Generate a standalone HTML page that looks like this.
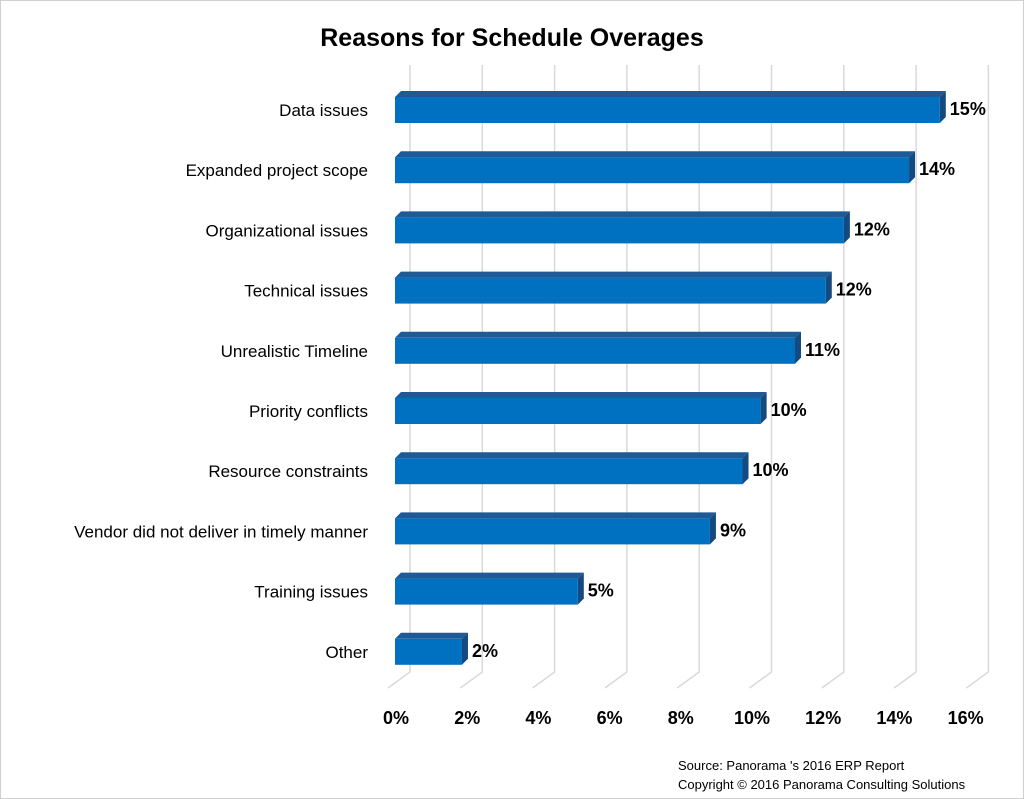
<!DOCTYPE html>
<html><head><meta charset="utf-8"><style>
body{margin:0;background:#fff}
svg{display:block;font-family:"Liberation Sans",sans-serif}
</style></head><body>
<svg width="1024" height="799" viewBox="0 0 1024 799">
<rect x="0.5" y="0.5" width="1023" height="798" fill="#fff" stroke="#d0d0d0"/>
<text x="512" y="46" text-anchor="middle" font-size="25" font-weight="bold" fill="#000">Reasons for Schedule Overages</text>
<g id="grid"></g><g id="bars"></g><g id="ticks"></g>
<text x="678" y="770" font-size="13" fill="#000">Source: Panorama 's 2016 ERP Report</text>
<text x="678" y="789" font-size="13" fill="#000">Copyright © 2016 Panorama Consulting Solutions</text>
</svg>
<script>
const categories=["Data issues","Expanded project scope","Organizational issues","Technical issues","Unrealistic Timeline","Priority conflicts","Resource constraints","Vendor did not deliver in timely manner","Training issues","Other"];
const values=[15.05,14.2,12.4,11.9,11.05,10.1,9.6,8.7,5.05,1.85];
const valueLabels=["15%","14%","12%","12%","11%","10%","10%","9%","5%","2%"];
const tickValues=[0,2,4,6,8,10,12,14,16];
const tickLabels=["0%","2%","4%","6%","8%","10%","12%","14%","16%"];
const NS="http://www.w3.org/2000/svg";
function mk(t,a,p){const e=document.createElementNS(NS,t);for(const k in a)e.setAttribute(k,a[k]);p.appendChild(e);return e;}
const xFront=v=>395+v*36.2, xBack=v=>410+v*36.15;
const rowY=i=>97+i*60.2;
const grid=document.getElementById('grid'),bars=document.getElementById('bars'),ticks=document.getElementById('ticks');
tickValues.forEach((v,i)=>{
  const g=mk('polyline',{points:`${xBack(v)},65 ${xBack(v)},672 ${xBack(v)-22},688`,fill:'none',stroke:'#d9d9d9','stroke-width':1.5},grid);
  
  
  const t=mk('text',{x:396+v*35.6,y:724,'text-anchor':'middle','font-size':18,'font-weight':'bold',fill:'#000'},ticks);
  t.textContent=tickLabels[i];
  
  
});
const d=6;
categories.forEach((c,i)=>{
  const y=rowY(i),h=26,x0=395,x1=xFront(values[i]);
  const g=mk('g',{},bars);
  
  
  mk('polygon',{points:`${x0},${y} ${x0+d},${y-d} ${x1+d},${y-d} ${x1},${y}`,fill:'#1f5a96'},g);
  mk('polygon',{points:`${x1},${y} ${x1+d},${y-d} ${x1+d},${y+h-d} ${x1},${y+h}`,fill:'#154a80'},g);
  mk('rect',{x:x0,y:y,width:x1-x0,height:h,fill:'#0070c0'},g);
  const l=mk('text',{x:368,y:y+h/2+6,'text-anchor':'end','font-size':17,fill:'#000'},bars);
  l.textContent=c;
  
  
  const v=mk('text',{x:x1+d+4,y:y+h/2+5,'font-size':18,'font-weight':'bold',fill:'#000'},bars);
  v.textContent=valueLabels[i];
  
  
});
</script>
</body></html>
